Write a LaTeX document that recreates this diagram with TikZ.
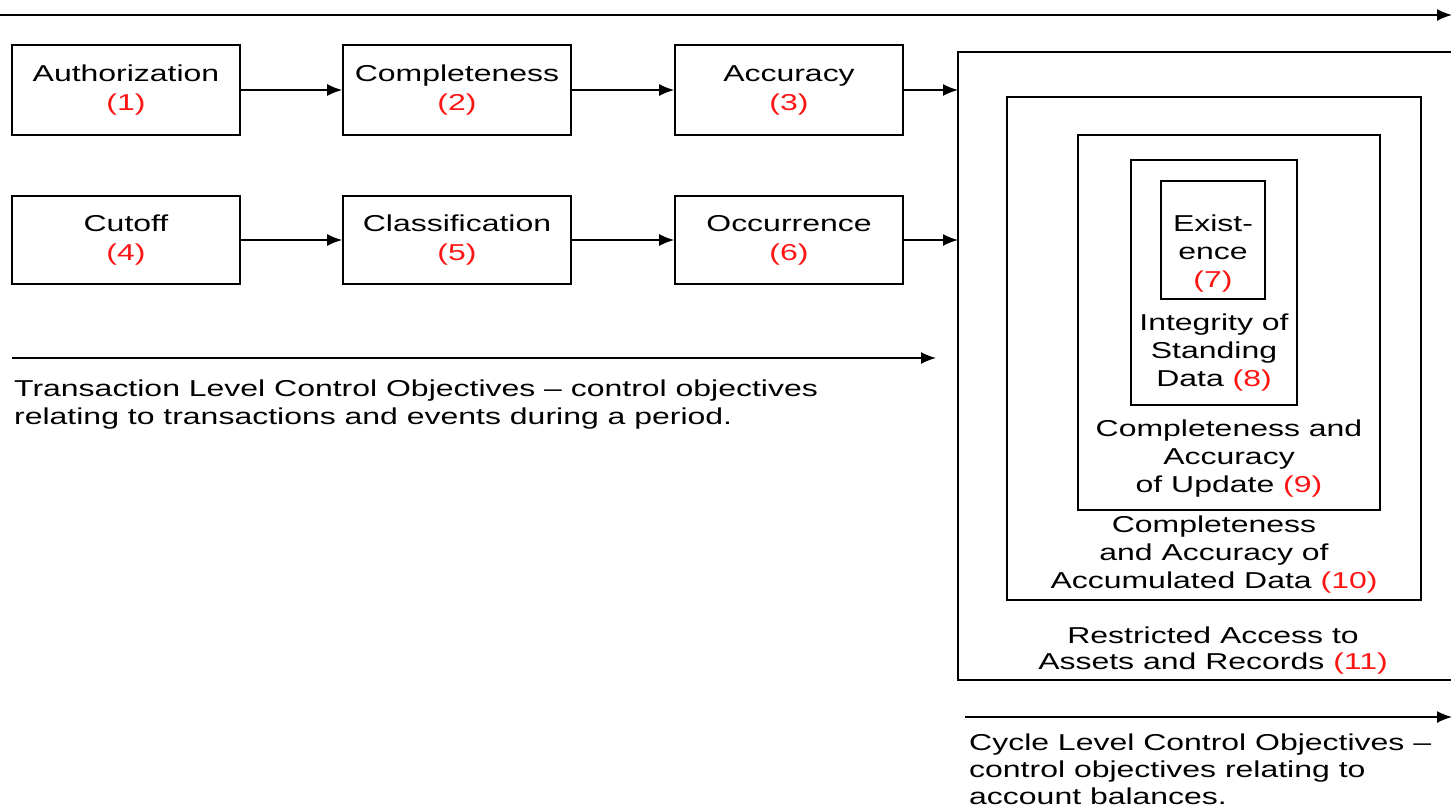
\documentclass[tikz,border=0pt]{standalone}
\usepackage{fontspec}
\setmainfont{Liberation Sans}[FakeStretch=1.39]
\usetikzlibrary{arrows.meta,positioning}
\definecolor{numred}{RGB}{255,20,20}
\newcommand{\nr}[1]{\textcolor{numred}{(#1)}}
\tikzset{
  every node/.style={font=\fontsize{23}{28}\selectfont},
  objbox/.style={draw=black, line width=1.7pt, rectangle, inner sep=0pt, align=center},
  frame/.style={draw=black, line width=1.7pt, rectangle, inner sep=0pt},
  lbl/.style={align=center, inner sep=0pt},
  conn/.style={line width=1.5pt, -{Latex[length=15pt,width=12pt]}},
}
\begin{document}
\begin{tikzpicture}[x=1pt,y=-1pt]
\useasboundingbox (0,0) rectangle (1451,809);
\clip (0,0) rectangle (1451,809);
% top arrow
\coordinate (topL) at (0,15);
\coordinate (topR) at (1452,15);
\draw[conn] (topL) -- (topR);
% first row
\node[objbox, minimum width=228pt, minimum height=90pt] (auth) at (126,90) {Authorization\\[1pt]\nr{1}};
\node[objbox, minimum width=228pt, minimum height=90pt] (comp) at (457,90) {Completeness\\[1pt]\nr{2}};
\node[objbox, minimum width=228pt, minimum height=90pt] (accu) at (789,90) {Accuracy\\[1pt]\nr{3}};
% second row
\node[objbox, minimum width=228pt, minimum height=88pt] (cut) at (126,240) {Cutoff\\[1pt]\nr{4}};
\node[objbox, minimum width=228pt, minimum height=88pt] (clas) at (457,240) {Classification\\[1pt]\nr{5}};
\node[objbox, minimum width=228pt, minimum height=88pt] (occ) at (789,240) {Occurrence\\[1pt]\nr{6}};
% nested frames
\draw[frame] (958,52) rectangle (1470,680);
\coordinate (o1) at (958,90);
\coordinate (o2) at (958,240);
\node[frame, minimum width=414pt, minimum height=503pt] (b2) at (1214,348.5) {};
\node[frame, minimum width=302pt, minimum height=375pt] (b3) at (1229,322.5) {};
\node[frame, minimum width=166pt, minimum height=245pt] (b4) at (1214,282.5) {};
\node[frame, minimum width=104pt, minimum height=118pt] (b5) at (1213,240) {};
% nested labels
\node[lbl] (t7) at (1213,254) {Exist-\\ence\\\nr{7}};
\node[lbl] (t8) at (1214,353) {Integrity of\\Standing\\Data \nr{8}};
\node[lbl] (t9) at (1229,459) {Completeness and\\Accuracy\\of Update \nr{9}};
\node[lbl] (t10) at (1214,555) {Completeness\\and Accuracy of\\Accumulated Data \nr{10}};
\node[lbl, font=\fontsize{23}{26}\selectfont] (t11) at (1213,651) {Restricted Access to\\Assets and Records \nr{11}};
% connectors
\draw[conn] (auth.east) -- (comp.west);
\draw[conn] (comp.east) -- (accu.west);
\draw[conn] (accu.east) -- (o1);
\draw[conn] (cut.east) -- (clas.west);
\draw[conn] (clas.east) -- (occ.west);
\draw[conn] (occ.east) -- (o2);
% transaction arrow & text
\coordinate (trL) at (12,358);
\coordinate (trR) at (936,358);
\draw[conn] (trL) -- (trR);
\node[lbl, align=left, anchor=west] (trtext) at (14,405) {Transaction Level Control Objectives -- control objectives\\relating to transactions and events during a period.};
% cycle arrow & text
\coordinate (cyL) at (965,717);
\coordinate (cyR) at (1452,717);
\draw[conn] (cyL) -- (cyR);
\node[lbl, align=left, anchor=west, font=\fontsize{23}{27}\selectfont] (cytext) at (969,769) {Cycle Level Control Objectives --\\control objectives relating to\\account balances.};
\end{tikzpicture}
\end{document}
